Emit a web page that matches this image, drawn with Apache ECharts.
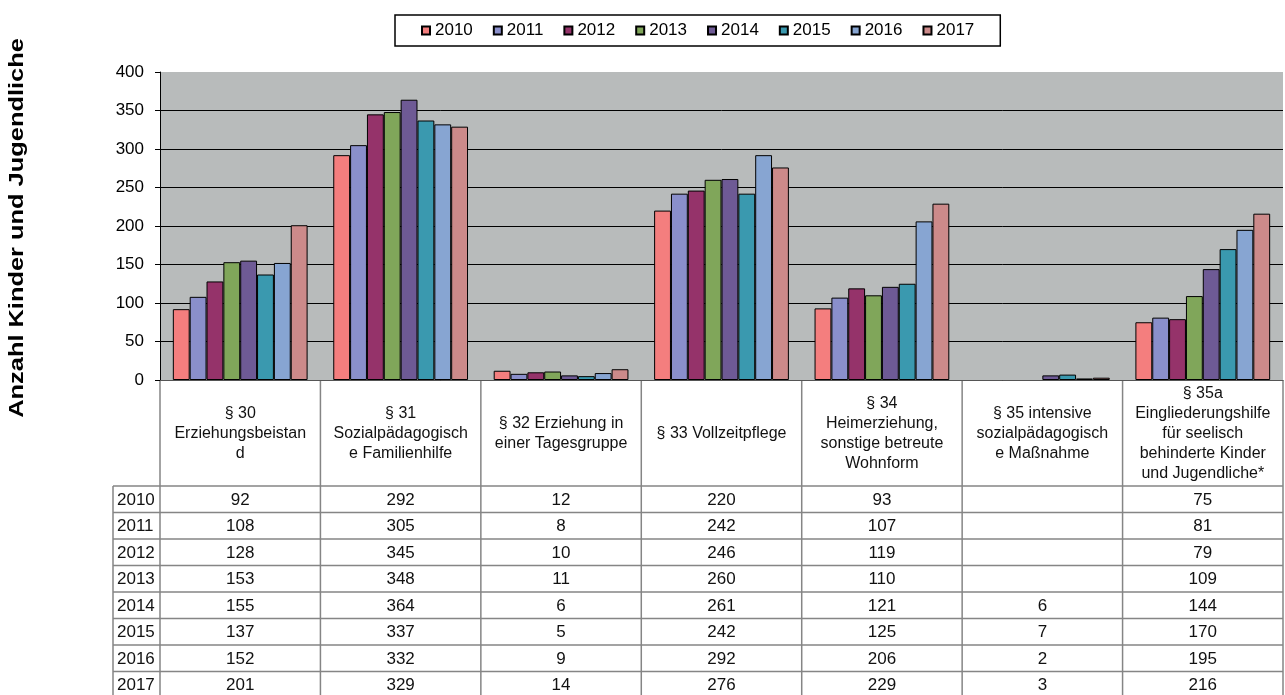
<!DOCTYPE html>
<html>
<head>
<meta charset="utf-8">
<script src="https://cdn.jsdelivr.net/npm/echarts@6/dist/echarts.min.js"></script>
<style>
  html, body { margin: 0; padding: 0; background: #fff; }
  #main { width: 1285px; height: 695px; }
</style>
</head>
<body>
<div id="main"></div>
<script>
// Jahre (Serien) und Hilfearten (Kategorien)
const years = ['2010', '2011', '2012', '2013', '2014', '2015', '2016', '2017'];
const categories = [
  '§ 30\nErziehungsbeistan\nd',
  '§ 31\nSozialpädagogisch\ne Familienhilfe',
  '§ 32 Erziehung in\neiner Tagesgruppe',
  '§ 33 Vollzeitpflege',
  '§ 34\nHeimerziehung,\nsonstige betreute\nWohnform',
  '§ 35 intensive\nsozialpädagogisch\ne Maßnahme',
  '§ 35a\nEingliederungshilfe\nfür seelisch\nbehinderte Kinder\nund Jugendliche*'
];

// Werte je Hilfeart, 2010..2017
const par30 = [92, 108, 128, 153, 155, 137, 152, 201];
const par31 = [292, 305, 345, 348, 364, 337, 332, 329];
const par32 = [12, 8, 10, 11, 6, 5, 9, 14];
const par33 = [220, 242, 246, 260, 261, 242, 292, 276];
const par34 = [93, 107, 119, 110, 121, 125, 206, 229];
const par35 = [null, null, null, null, 6, 7, 2, 3];
const par35a = [75, 81, 79, 109, 144, 170, 195, 216];
const columns = [par30, par31, par32, par33, par34, par35, par35a];

const yTicks = [0, 50, 100, 150, 200, 250, 300, 350, 400];

const colors = ['#F47E7E', '#8A8FCB', '#95336A', '#80A65A', '#6E5A95', '#3A99AF', '#87A5D2', '#CC8A8A'];

const FONT = '"Liberation Sans", Arial, sans-serif';

// Lage von Diagramm und Datentabelle
const gridL = 160, gridR = 1283, gridT = 72, gridB = 380;
const catW = (gridR - gridL) / categories.length;
const headBottom = 486, rowH = 26.5, labelL = 113;
const lineCol = '#858585';

const chart = echarts.init(document.getElementById('main'));

// Datentabelle unter dem Diagramm
function buildTable() {
  const els = [];
  const tableBottom = headBottom + rowH * years.length;
  for (let i = 0; i <= categories.length; i++) {
    const x = gridL + i * catW;
    els.push({ type: 'line', shape: { x1: x, y1: gridB, x2: x, y2: tableBottom },
      style: { stroke: lineCol, lineWidth: 1.5 }, silent: true });
  }
  els.push({ type: 'line', shape: { x1: labelL, y1: headBottom, x2: labelL, y2: tableBottom },
    style: { stroke: lineCol, lineWidth: 1.5 }, silent: true });
  for (let j = 0; j <= years.length; j++) {
    const y = headBottom + j * rowH;
    els.push({ type: 'line', shape: { x1: labelL, y1: y, x2: gridR, y2: y },
      style: { stroke: lineCol, lineWidth: 1.5 }, silent: true });
  }
  categories.forEach((c, i) => {
    els.push({ type: 'text', x: gridL + (i + 0.5) * catW, y: (gridB + headBottom) / 2 + 1,
      style: { text: c, font: '16px ' + FONT, fill: '#111', textAlign: 'center',
        textVerticalAlign: 'middle', lineHeight: 20 }, silent: true });
  });
  years.forEach((yr, j) => {
    const cy = headBottom + (j + 0.5) * rowH + 1;
    els.push({ type: 'text', x: labelL + 4, y: cy,
      style: { text: yr, font: '17px ' + FONT, fill: '#111', textAlign: 'left',
        textVerticalAlign: 'middle' }, silent: true });
    columns.forEach((col, i) => {
      if (col[j] == null) return;
      els.push({ type: 'text', x: gridL + (i + 0.5) * catW, y: cy,
        style: { text: String(col[j]), font: '17px ' + FONT, fill: '#111', textAlign: 'center',
          textVerticalAlign: 'middle' }, silent: true });
    });
  });
  // Achsentitel
  els.push({ type: 'text', x: 17, y: 228, rotation: Math.PI / 2, scaleX: 1.27,
    style: { text: 'Anzahl Kinder und Jugendliche', font: 'bold 20px ' + FONT, fill: '#000',
      textAlign: 'center', textVerticalAlign: 'middle' }, silent: true });
  return els;
}

const option = {
  animation: false,
  color: colors,
  textStyle: { fontFamily: FONT },
  legend: {
    left: 395, top: 15,
    padding: [7, 26],
    itemWidth: 8, itemHeight: 8, itemGap: 20,
    icon: 'rect',
    borderColor: '#000', borderWidth: 1.5,
    textStyle: { fontSize: 17, color: '#000', fontFamily: FONT },
    data: years
  },
  grid: {
    left: gridL, right: 1285 - gridR, top: gridT, bottom: 695 - gridB,
    show: true, backgroundColor: '#B8BBBB', borderWidth: 0
  },
  xAxis: {
    type: 'category',
    data: categories,
    axisLine: { lineStyle: { color: '#555', width: 1 } },
    axisTick: { show: false },
    axisLabel: { show: false }
  },
  yAxis: {
    type: 'value',
    min: yTicks[0], max: yTicks[yTicks.length - 1], interval: 50,
    axisLine: { show: true, lineStyle: { color: '#000', width: 1 } },
    axisTick: { show: true, length: 5, lineStyle: { color: '#000' } },
    axisLabel: { fontSize: 17, color: '#000', margin: 16, fontFamily: FONT },
    splitLine: { show: true, showMaxLine: false, lineStyle: { color: '#000', width: 1 } }
  },
  series: years.map((yr, i) => ({
    name: yr,
    type: 'bar',
    barGap: '0%',
    barCategoryGap: '16%',
    itemStyle: { borderColor: '#000', borderWidth: 1 },
    data: columns.map(col => col[i])
  })),
  graphic: buildTable()
};

chart.setOption(option);
</script>
</body>
</html>
